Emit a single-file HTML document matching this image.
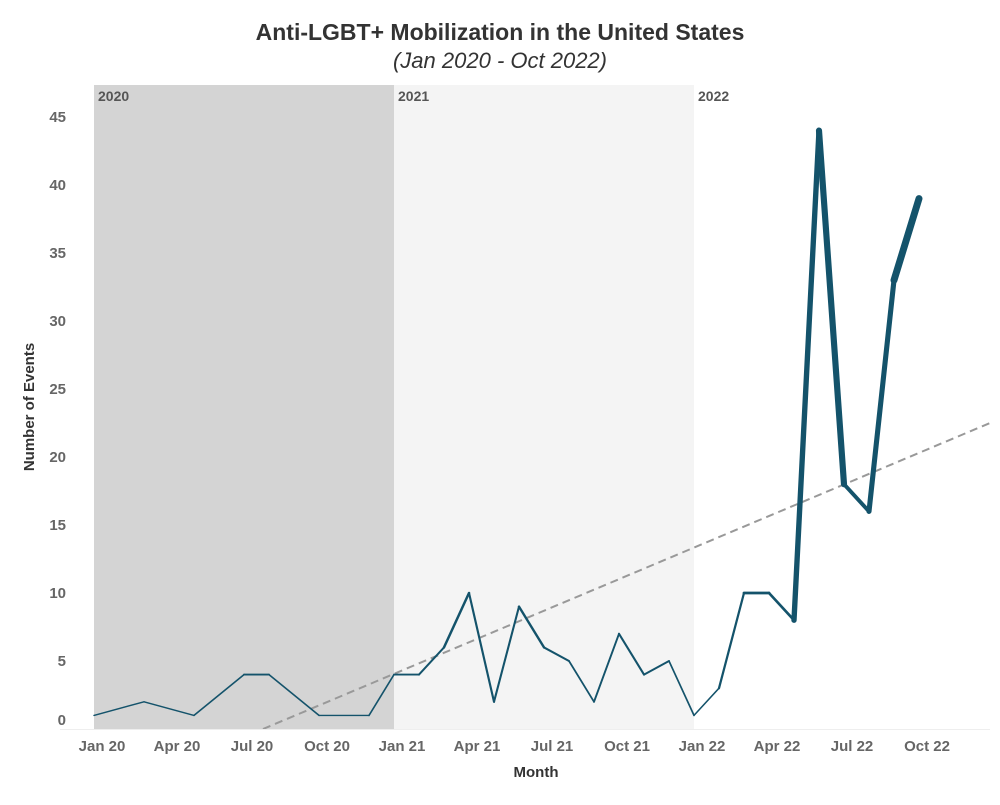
<!DOCTYPE html>
<html><head><meta charset="utf-8"><style>
body{margin:0;background:#fff;font-family:"Liberation Sans","DejaVu Sans",sans-serif;}
svg text{font-family:"Liberation Sans","DejaVu Sans",sans-serif;}
</style></head><body>
<svg id="chart" width="1000" height="800">
<text x="500" y="40" text-anchor="middle" font-size="23" font-weight="bold" fill="#333">Anti-LGBT+ Mobilization in the United States</text>
<text x="500" y="68" text-anchor="middle" font-size="22" font-style="italic" fill="#333">(Jan 2020 - Oct 2022)</text>
<g id="bands"></g>
<g id="yaxis"></g>
<g id="xaxis"></g>
<defs><clipPath id="plotclip"><rect x="60" y="85" width="930" height="644"/></clipPath></defs>
<g id="trend" clip-path="url(#plotclip)"></g>
<g id="series"></g>
<text transform="translate(34,407) rotate(-90)" text-anchor="middle" font-size="15" font-weight="bold" fill="#333">Number of Events</text>
<text x="536" y="777" text-anchor="middle" font-size="15" font-weight="bold" fill="#333">Month</text>
</svg>
<script>
const monthIdx=[0,2,4,6,7,9,11,12,13,14,15,16,17,18,19,20,21,22,23,24,25,26,27,28,29,30,31,32,33];
const events=[1,2,1,4,4,1,1,4,4,6,10,2,9,6,5,2,7,4,5,1,3,10,10,8,44,18,16,33,39];
const yTicks=[0,5,10,15,20,25,30,35,40,45];
const xTickMonths=[0,3,6,9,12,15,18,21,24,27,30,33];
const xTickLabels=["Jan 20","Apr 20","Jul 20","Oct 20","Jan 21","Apr 21","Jul 21","Oct 21","Jan 22","Apr 22","Jul 22","Oct 22"];
const years=["2020","2021","2022"];
const yearColors=["#d4d4d4","#f4f4f4","#ffffff"];
const trendStart=[6.76,0];const trendEnd=[35.84,22.5];
const NS="http://www.w3.org/2000/svg";
const X=m=>94+25*m, Y=v=>729-13.6*v;
function mk(tag,attrs,parent){const e=document.createElementNS(NS,tag);for(const k in attrs)e.setAttribute(k,attrs[k]);document.getElementById(parent).appendChild(e);return e;}
years.forEach((yr,i)=>{
 const r=mk('rect',{x:X(i*12),y:85,width:i<2?300:296,height:644,fill:yearColors[i]},'bands');
 
 
 const t=mk('text',{x:X(i*12)+4,y:101,'font-size':14,'font-weight':'bold',fill:'#555'},'bands');t.textContent=yr;
 
 
});
yTicks.forEach(v=>{
 const t=mk('text',{x:66,y:Y(v)+(v===0?-4:5),'text-anchor':'end','font-size':15,'font-weight':'bold',fill:'#666'},'yaxis');t.textContent=v;
 
 
});
const ax=mk('line',{x1:60,y1:729.5,x2:990,y2:729.5,stroke:'#eee'},'xaxis');


xTickMonths.forEach((m,i)=>{
 const t=mk('text',{x:X(m)+8,y:751,'text-anchor':'middle','font-size':15,'font-weight':'bold',fill:'#666'},'xaxis');t.textContent=xTickLabels[i];
 
 
});
const tl=mk('line',{x1:X(trendStart[0]),y1:Y(trendStart[1]),x2:X(trendEnd[0]),y2:Y(trendEnd[1]),stroke:'#999','stroke-width':2,'stroke-dasharray':'8,5'},'trend');


for(let i=0;i<events.length-1;i++){
 const w=1.2+0.16*(events[i]+events[i+1])/2;
 const s=mk('line',{x1:X(monthIdx[i]),y1:Y(events[i]),x2:X(monthIdx[i+1]),y2:Y(events[i+1]),stroke:'#14536b','stroke-width':w,'stroke-linecap':'round'},'series');
 
 
}
</script>
</body></html>
